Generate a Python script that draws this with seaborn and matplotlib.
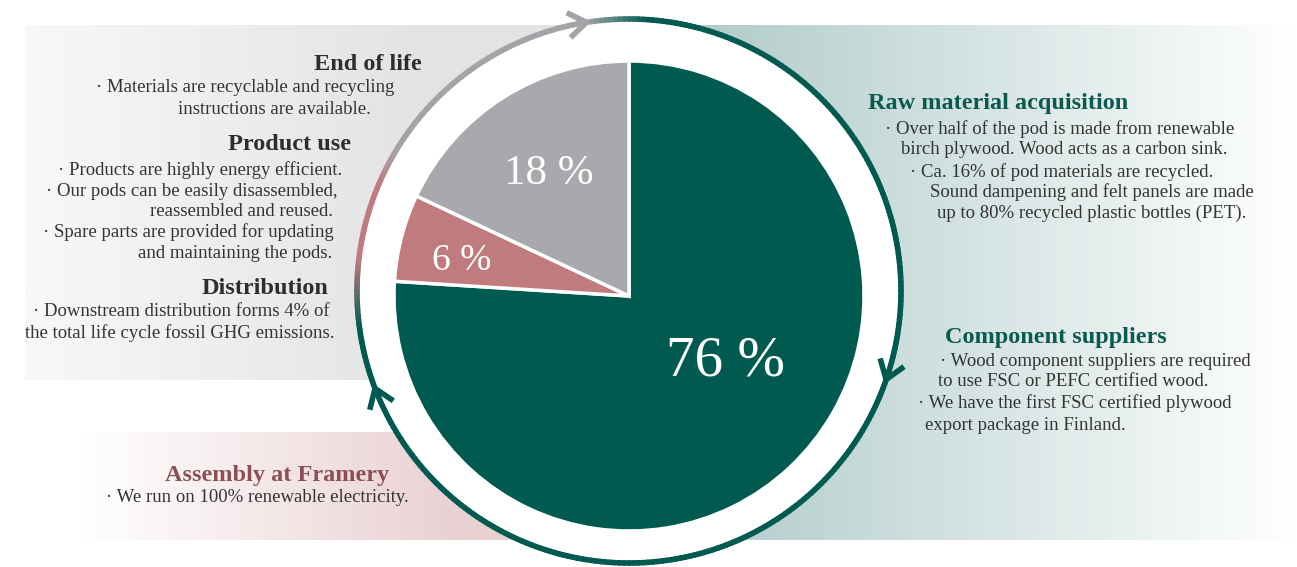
import numpy as np
import matplotlib.pyplot as plt
import seaborn as sns
from matplotlib.collections import LineCollection
from matplotlib.colors import to_rgb

sns.set_theme(style="white")
plt.rcParams['font.family'] = ['Liberation Serif', 'DejaVu Serif']

# %% data
W, H = 1297, 567
stages = ["Raw material acquisition + components", "Assembly at Framery", "Product use + end of life"]
shares = [76, 6, 18]
slice_colors = ["#005A50", "#C07B7E", "#A8A9AD"]

# percent label positions (pixel x, pixel y from top)
pct_pos = [(726, 362), (462, 261), (549, 174)]
pct_size = [41, 27, 31]

# text blocks: (x center, y from top, text, kind)
left_lines = [
    (368, 65, "End of life", "h"),
    (245, 88, "· Materials are recyclable and recycling", "b"),
    (274, 110, "instructions are available.", "b"),
    (290, 145, "Product use", "h"),
    (200, 170, "· Products are highly energy efficient.", "b"),
    (192, 191, "· Our pods can be easily disassembled,", "b"),
    (242, 212, "reassembled and reused.", "b"),
    (188, 232, "· Spare parts are provided for updating", "b"),
    (235, 253, "and maintaining the pods.", "b"),
    (265, 289, "Distribution", "h"),
    (181, 312, "· Downstream distribution forms 4% of", "b"),
    (180, 333, "the total life cycle fossil GHG emissions.", "b"),
]
assembly_lines = [
    (277, 475, "Assembly at Framery", "p"),
    (257, 497, "· We run on 100% renewable electricity.", "b"),
]
right_lines = [
    (998, 104, "Raw material acquisition", "t"),
    (1060, 129, "· Over half of the pod is made from renewable", "b"),
    (1064, 149, "birch plywood. Wood acts as a carbon sink.", "b"),
    (1062, 172, "· Ca. 16% of pod materials are recycled.", "b"),
    (1092, 192, "Sound dampening and felt panels are made", "b"),
    (1092, 213, "up to 80% recycled plastic bottles (PET).", "b"),
    (1056, 338, "Component suppliers", "t"),
    (1095, 361, "· Wood component suppliers are required", "b"),
    (1073, 381, "to use FSC or PEFC certified wood.", "b"),
    (1075, 403, "· We have the first FSC certified plywood", "b"),
    (1025, 425, "export package in Finland.", "b"),
]

styles = {
    "h": dict(color="#2E2E2E", fontsize=17.5, fontweight="bold"),
    "t": dict(color="#0B5A50", fontsize=17.5, fontweight="bold"),
    "p": dict(color="#8C4F55", fontsize=17.5, fontweight="bold"),
    "b": dict(color="#333333", fontsize=13.5),
}

# %% figure
fig = plt.figure(figsize=(W / 100, H / 100), dpi=100)
ax = fig.add_axes([0, 0, 1, 1])


def gradient(x0, x1, y0, y1, c0, c1, fade_end):
    # horizontal gradient panel, y given from top
    xs = np.linspace(0, 1, 300)
    t = np.clip(xs / fade_end, 0, 1)[:, None]
    img = (1 - t) * np.array(to_rgb(c0)) + t * np.array(to_rgb(c1))
    ax.imshow(img[None, :, :], extent=(x0, x1, H - y1, H - y0), aspect="auto", zorder=0)


gradient(25, 640, 25, 380, "#F8F8F8", "#E3E3E4", 0.65)
gradient(640, 1297, 25, 540, "#A9C7C5", "#FFFFFF", 1.0)
gradient(80, 560, 432, 540, "#FFFFFF", "#E9D0D2", 0.8)

# white disc inside the ring
ring_c = (629, H - 291)
ring_r = 272
ax.add_patch(plt.Circle(ring_c, ring_r - 1, color="white", zorder=1))

# ring colored along its length (clockwise from top arrow)
stops = [(0, "#A3A4A7"), (13, "#005A50"), (271, "#005A50"),
         (286, "#C07B7E"), (302, "#C07B7E"), (310, "#A3A4A7"), (360, "#A3A4A7")]
s = np.linspace(0, 360, 361)
sv = [p for p, _ in stops]
cols = np.array([np.interp(s, sv, [to_rgb(c)[k] for _, c in stops]) for k in range(3)]).T
theta = np.radians(99 - s)
px = ring_c[0] + ring_r * np.cos(theta)
py = ring_c[1] + ring_r * np.sin(theta)
segs = np.stack([np.column_stack([px[:-1], py[:-1]]), np.column_stack([px[1:], py[1:]])], axis=1)
ax.add_collection(LineCollection(segs, colors=cols[:-1], linewidths=4, capstyle="round", zorder=2))

# chevron arrow heads
for ang, col in [(99, "#A3A4A7"), (-19, "#005A50"), (201, "#005A50")]:
    a = np.radians(ang)
    tip = np.array([ring_c[0] + ring_r * np.cos(a), ring_c[1] + ring_r * np.sin(a)])
    back = -np.array([np.sin(a), -np.cos(a)])
    for rot in (35, -35):
        r = np.radians(rot)
        d = np.array([back[0] * np.cos(r) - back[1] * np.sin(r), back[0] * np.sin(r) + back[1] * np.cos(r)])
        end = tip + 22 * d
        ax.plot([tip[0], end[0]], [tip[1], end[1]], color=col, lw=4, solid_capstyle="butt", zorder=3)

# pie
ax.pie(shares, colors=slice_colors, startangle=90, counterclock=False,
       center=(629, H - 296), radius=235,
       wedgeprops=dict(edgecolor="white", linewidth=2.5, zorder=4))
for v, (x, y), fs in zip(shares, pct_pos, pct_size):
    ax.text(x, H - y, f"{v} %", ha="center", va="center", color="white", fontsize=fs, zorder=6)

for x, y, txt, kind in left_lines + assembly_lines + right_lines:
    ax.text(x, H - y, txt, ha="center", va="center", zorder=6, **styles[kind])

ax.set_xlim(0, W)
ax.set_ylim(0, H)
ax.set_aspect("equal")
ax.axis("off")
fig.savefig("out.png", dpi=100, facecolor="white")
